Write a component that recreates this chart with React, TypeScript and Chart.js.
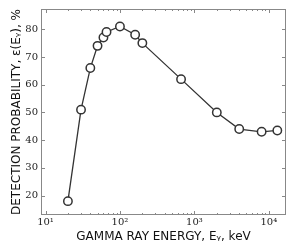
import React, { useEffect, useRef } from "react";
import { Chart, registerables } from "chart.js";

Chart.register(...registerables);

const energies = [20, 30, 40, 50, 60, 66, 100, 160, 200, 662, 2000, 4000, 8000, 13000];
const efficiency = [18, 51, 66, 74, 77, 79, 81, 78, 75, 62, 50, 44, 43, 43.5];
const yTicks = [20, 30, 40, 50, 60, 70, 80];
const xDecades = [10, 100, 1000, 10000];
const xTickLabels = ["10¹", "10²", "10³", "10⁴"];

const framePlugin = {
  id: "frameTicks",
  afterDatasetsDraw(chart: any) {
    const { ctx, chartArea: a, scales } = chart;
    const x = scales.x;
    const y = scales.y;
    ctx.save();
    ctx.strokeStyle = "#888";
    ctx.lineWidth = 1;
    ctx.strokeRect(a.left + 0.5, a.top + 0.5, a.right - a.left - 1, a.bottom - a.top - 1);
    ctx.beginPath();
    for (const d of xDecades) {
      for (let m = 1; m <= 9; m++) {
        const v = d * m;
        if (v < x.min || v > x.max) continue;
        const px = Math.round(x.getPixelForValue(v)) + 0.5;
        const len = m === 1 ? 4 : 2;
        ctx.moveTo(px, a.bottom);
        ctx.lineTo(px, a.bottom - len);
        ctx.moveTo(px, a.top);
        ctx.lineTo(px, a.top + len);
      }
    }
    for (const t of yTicks) {
      const py = Math.round(y.getPixelForValue(t)) + 0.5;
      ctx.moveTo(a.left, py);
      ctx.lineTo(a.left + 4, py);
      ctx.moveTo(a.right, py);
      ctx.lineTo(a.right - 4, py);
    }
    ctx.stroke();
    ctx.restore();
  },
};

export default function App() {
  const ref = useRef<HTMLCanvasElement>(null);
  useEffect(() => {
    document.body.style.margin = "0";
    const chart = new Chart(ref.current!, {
      type: "line",
      data: {
        datasets: [
          {
            data: energies.map((e, i) => ({ x: e, y: efficiency[i] })),
            borderColor: "#333",
            borderWidth: 1.3,
            pointRadius: 4.2,
            pointBorderWidth: 1.5,
            pointBackgroundColor: "#fff",
            pointBorderColor: "#333",
            tension: 0,
          },
        ],
      },
      options: {
        animation: false,
        responsive: false,
        maintainAspectRatio: false,
        layout: { padding: { top: 9, right: 7, left: 0, bottom: 0 } },
        plugins: { legend: { display: false }, tooltip: { enabled: false } },
        scales: {
          x: {
            type: "logarithmic",
            min: 8.7,
            max: 17000,
            grid: { display: false, drawTicks: false },
            border: { display: false },
            afterBuildTicks: (s: any) => {
              s.ticks = xDecades.map((v) => ({ value: v }));
            },
            afterFit: (s: any) => {
              s.height = 30;
            },
            ticks: {
              autoSkip: false,
              maxRotation: 0,
              padding: 1,
              color: "#222",
              font: { family: "DejaVu Serif", size: 10 },
              callback: (v: any) => {
                const i = xDecades.indexOf(Number(v));
                return i >= 0 ? xTickLabels[i] : "";
              },
            },
            title: {
              display: true,
              text: "GAMMA RAY ENERGY, Eᵧ, keV",
              color: "#111",
              font: { family: "DejaVu Sans", size: 12 },
              padding: { top: 0, bottom: 1 },
            },
          },
          y: {
            min: 13,
            max: 87.3,
            grid: { display: false, drawTicks: false },
            border: { display: false },
            afterBuildTicks: (s: any) => {
              s.ticks = yTicks.map((v) => ({ value: v }));
            },
            afterFit: (s: any) => {
              s.width = 41;
            },
            ticks: {
              autoSkip: false,
              padding: 3,
              color: "#222",
              font: { family: "DejaVu Serif", size: 10 },
            },
            title: {
              display: true,
              text: "DETECTION PROBABILITY, ε(Eᵧ), %",
              color: "#111",
              font: { family: "DejaVu Sans", size: 12 },
              padding: { top: 10, bottom: 0 },
            },
          },
        },
      },
      plugins: [framePlugin],
    });
    return () => chart.destroy();
  }, []);
  return (
    <div style={{ position: "absolute", left: 0, top: 0, width: 293, height: 245 }}>
      <canvas ref={ref} width={293} height={245} />
    </div>
  );
}
